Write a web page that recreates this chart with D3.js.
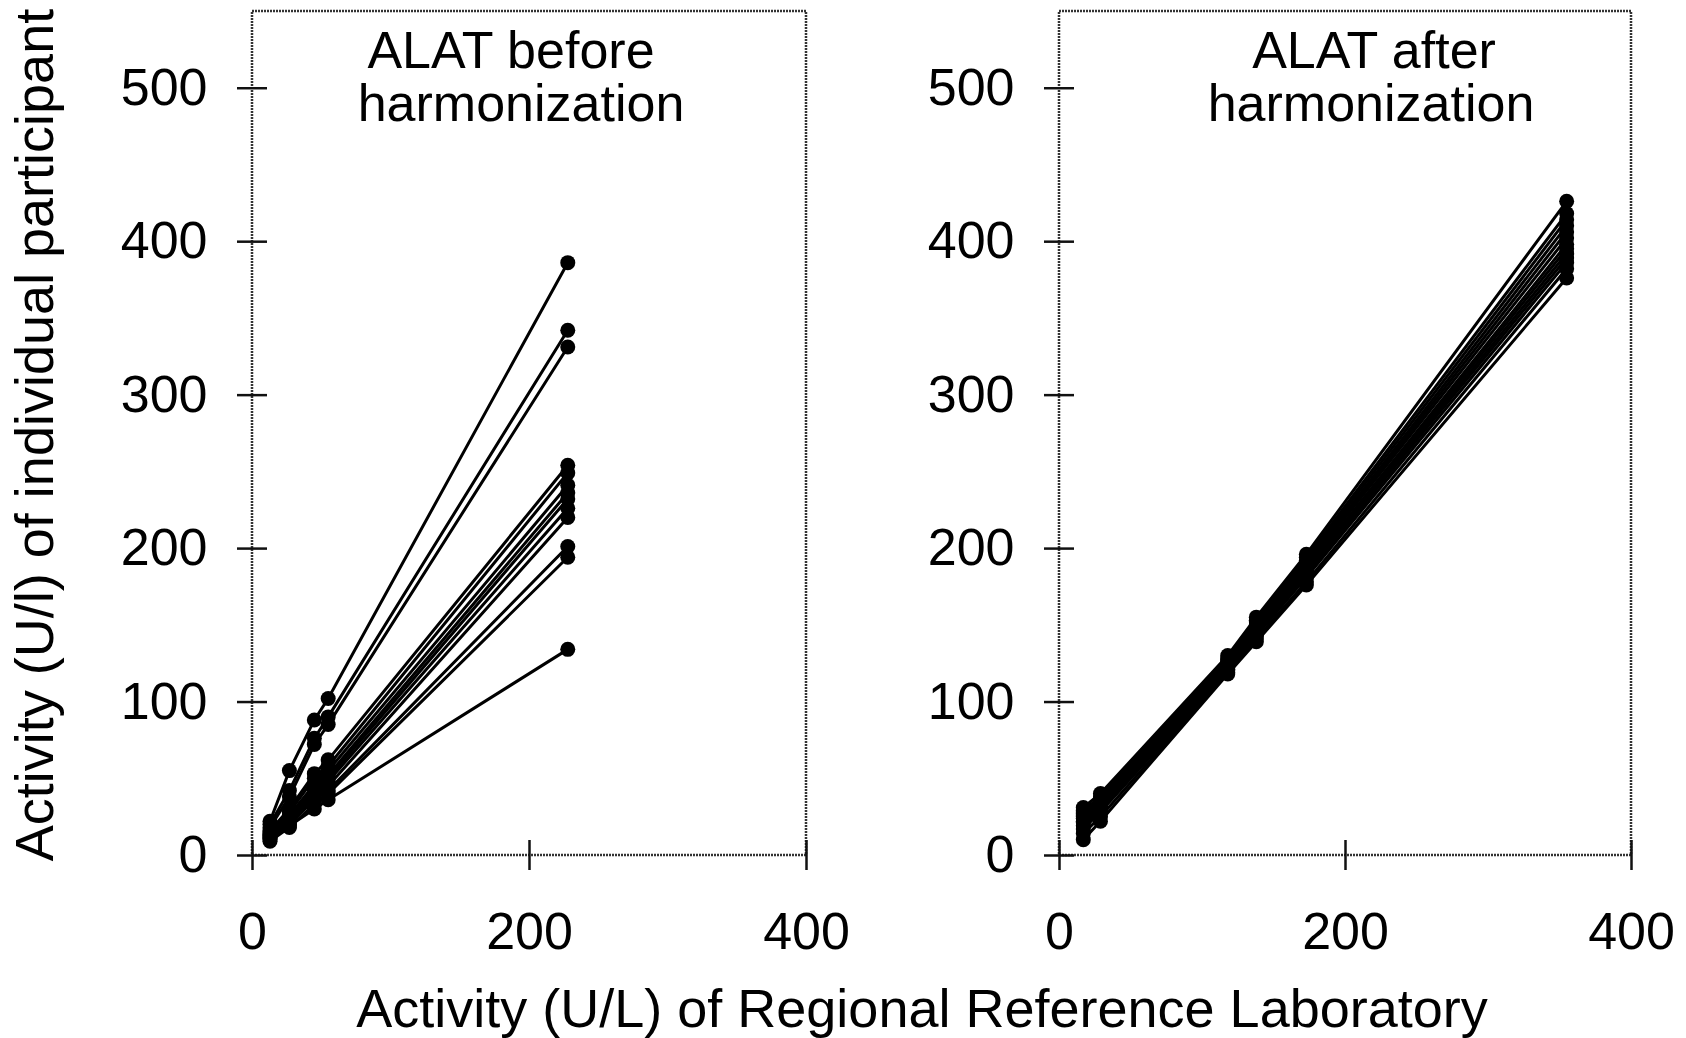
<!DOCTYPE html>
<html>
<head>
<meta charset="utf-8">
<title>ALAT harmonization</title>
<style>
body { margin: 0; background: #fff; }
svg text { font-family: "Liberation Sans", Arial, sans-serif; fill: #000; }
.frame { fill: none; stroke: #333; stroke-width: 2.5px; stroke-dasharray: 2,1; }
.tick line { stroke: #111; stroke-width: 2.5px; }
.series { fill: none; stroke: #000; stroke-width: 3px; }
.dot { fill: #000; }
</style>
<script src="https://cdn.jsdelivr.net/npm/d3@7"></script>
</head>
<body>
<script>

var width = 1686, height = 1038;

// axis ticks
var xTicks = [0, 200, 400];
var yTicks = [0, 100, 200, 300, 400, 500];

// before harmonization: RRL activity per sample, participant values per sample
var beforeRRL = [13, 27, 45, 55, 228];
var beforeValues = [
  [22, 55, 88, 102, 386],
  [20, 42, 76, 90, 342],
  [18, 38, 72, 85, 331],
  [16, 30, 53, 62, 254],
  [15, 28, 50, 58, 249],
  [13, 26, 46, 55, 241],
  [14, 25, 44, 52, 236],
  [13, 24, 42, 50, 232],
  [11, 22, 40, 48, 226],
  [12, 21, 38, 45, 220],
  [10, 20, 36, 42, 201],
  [9, 18, 33, 40, 194],
  [11, 19, 30, 36, 134]
];

// after harmonization
var afterRRL = [17, 29, 118, 138, 173, 355];
var afterValues = [
  [31, 40, 130, 155, 196, 426],
  [29, 38, 128, 153, 194, 418],
  [28, 37, 127, 152, 192, 414],
  [27, 36, 126, 150, 190, 410],
  [26, 35, 125, 149, 189, 406],
  [25, 34, 124, 148, 188, 402],
  [24, 33, 124, 147, 186, 398],
  [22, 32, 123, 146, 185, 395],
  [21, 31, 122, 145, 184, 392],
  [19, 30, 121, 144, 183, 389],
  [17, 28, 120, 143, 181, 386],
  [14, 25, 119, 141, 178, 382],
  [10, 22, 118, 139, 176, 376]
];

var titles = [["ALAT before", "harmonization"], ["ALAT after", "harmonization"]];
var yLabel = "Activity (U/l) of individual participant";
var xLabel = "Activity (U/L) of Regional Reference Laboratory";

var panels = [
  { rrl: beforeRRL, values: beforeValues, left: 252, right: 806, title: titles[0], tx: [511, 521] },
  { rrl: afterRRL, values: afterValues, left: 1059, right: 1631, title: titles[1], tx: [1374, 1371] }
];
var plotTop = 11, plotBottom = 855;
var fontSize = 52, labelSize = 54;

var svg = d3.select("body").append("svg")
    .attr("width", width)
    .attr("height", height);

panels.forEach(function(p) {
  var x = d3.scaleLinear().domain([0, 400]).range([p.left, p.right]);
  var y = d3.scaleLinear().domain([0, 550]).range([plotBottom, plotTop]);

  var g = svg.append("g");

  g.append("rect")
      .attr("class", "frame")
      .attr("x", p.left)
      .attr("y", plotTop)
      .attr("width", p.right - p.left)
      .attr("height", plotBottom - plotTop);

  // ticks cross the frame, so shift the axis by half the tick size
  var yAxis = g.append("g")
      .attr("transform", "translate(" + (p.left + 15) + ",0)")
      .call(d3.axisLeft(y).tickValues(yTicks).tickSize(30).tickPadding(29.5));
  yAxis.select(".domain").remove();

  var xAxis = g.append("g")
      .attr("transform", "translate(0," + (plotBottom - 15) + ")")
      .call(d3.axisBottom(x).tickValues(xTicks).tickSize(30).tickPadding(42));
  xAxis.select(".domain").remove();

  g.selectAll(".tick text")
      .style("font-size", fontSize + "px");
  yAxis.attr("font-family", null).attr("font-size", null);
  xAxis.attr("font-family", null).attr("font-size", null);

  var line = d3.line()
      .x(function(d, i) { return x(p.rrl[i]); })
      .y(function(d) { return y(d); });

  g.selectAll(".series")
      .data(p.values)
      .enter().append("path")
      .attr("class", "series")
      .attr("d", line);

  p.values.forEach(function(row) {
    g.selectAll(null)
        .data(row)
        .enter().append("circle")
        .attr("class", "dot")
        .attr("cx", function(d, i) { return x(p.rrl[i]); })
        .attr("cy", function(d) { return y(d); })
        .attr("r", 7.5);
  });

  g.append("text")
      .attr("x", p.tx[0])
      .attr("y", 68)
      .attr("text-anchor", "middle")
      .style("font-size", fontSize + "px")
      .text(p.title[0]);
  g.append("text")
      .attr("x", p.tx[1])
      .attr("y", 121)
      .attr("text-anchor", "middle")
      .style("font-size", fontSize + "px")
      .text(p.title[1]);
});

svg.append("text")
    .attr("transform", "translate(53,435) rotate(-90)")
    .attr("text-anchor", "middle")
    .style("font-size", labelSize + "px")
    .text(yLabel);

svg.append("text")
    .attr("x", 922)
    .attr("y", 1027)
    .attr("text-anchor", "middle")
    .style("font-size", labelSize + "px")
    .text(xLabel);

</script>
</body>
</html>
